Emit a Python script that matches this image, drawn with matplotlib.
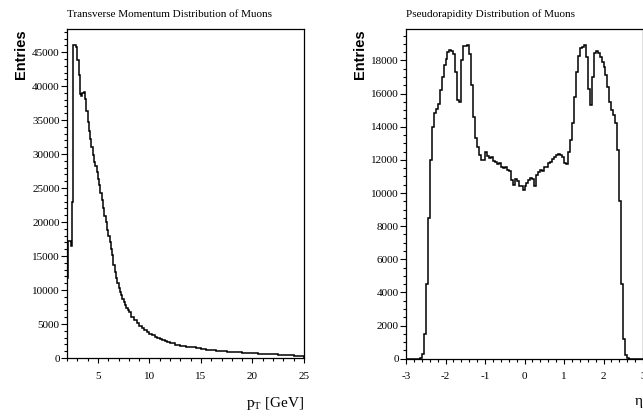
import numpy as np
import matplotlib.pyplot as plt
from matplotlib.ticker import MultipleLocator

plt.rcParams['font.family'] = ['Liberation Serif', 'DejaVu Serif']
plt.rcParams['mathtext.fontset'] = 'custom'
plt.rcParams['mathtext.rm'] = 'Liberation Serif'
plt.rcParams['axes.unicode_minus'] = False

# transverse momentum histogram (finer bins where the shape changes fast)
pt_edges = np.concatenate([np.arange(2.0, 8.0, 0.125),
                           np.arange(8.0, 12.0, 0.25),
                           np.arange(12.0, 25.01, 0.5)])
pt_counts = [
    11800, 17200, 17200, 16500, 22900, 46100, 46000, 45800,
    43900, 41600, 38800, 38500, 39000, 39100, 38100, 36300,
    34700, 33400, 32200, 31000, 29800, 28900, 28300, 27300,
    26400, 25400, 24300, 23200, 22000, 20900, 20000, 18900,
    17900, 17000, 16000, 15100, 13700, 12700, 11800, 11000,
    10300, 9700, 9200, 8700, 8200, 7800, 7400, 7100,
    # 0.25 wide
    6700, 6050, 5600, 5200, 4700, 4400, 4100, 3800,
    3550, 3350, 3100, 2950, 2800, 2650, 2500, 2380,
    # 0.5 wide
    2150, 1980, 1800, 1680, 1560, 1430, 1330, 1250, 1150, 1060,
    1000, 950, 880, 830, 790, 740, 700, 660, 610, 570,
    530, 490, 430, 390, 340, 300,
]

# pseudorapidity histogram, 120 bins from -3 to 3
eta_edges = np.linspace(-3, 3, 121)
eta_counts = [0] * 7 + [
    50, 300, 1500, 4500, 8500, 12000, 14000, 14800, 15100, 15400,
    16200, 17000, 17700, 18100, 18500, 18650, 18600, 18400, 17300, 15600,
    15500, 18000, 18850, 18900, 18950, 18400, 16500, 14600, 13300, 12800,
    12300, 12000, 12000, 12450, 12250, 12100, 12150, 11950, 11850, 11750,
    11800, 11600, 11500, 11600, 11400, 11300, 10800, 10500, 10850, 10700,
    10450, 10400, 10200, 10400, 10600, 10800, 10900, 10850, 10400, 11100,
    11250, 11400, 11350, 11600, 11550, 11800, 11900, 12050, 12200, 12300,
    12350, 12300, 12150, 11800, 11750, 12500, 13200, 14200, 15800, 17300,
    18300, 18750, 18800, 18950, 18200, 16300, 15300, 17000, 18450, 18600,
    18450, 18200, 17900, 17600, 17100, 16400, 15500, 15000, 14700, 14200,
    12600, 9500, 4500, 1200, 200, 30,
] + [0] * 7

W, H = 643, 417
fig = plt.figure(figsize=(W / 100, H / 100), dpi=100)
ax1 = fig.add_axes([67 / W, 59 / H, 237 / W, 329 / H])
ax2 = fig.add_axes([406 / W, 58.3 / H, 237 / W, 329.7 / H])


def style(ax, title):
    for s in ax.spines.values():
        s.set_linewidth(0.9)
    ax.tick_params(which='both', direction='out', top=False, right=False,
                   labelsize=8, width=0.8)
    ax.tick_params(axis='y', which='major', length=4.2, pad=1)
    ax.tick_params(axis='y', which='minor', length=2.2)
    ax.tick_params(axis='x', which='major', length=3.8, pad=6)
    ax.tick_params(axis='x', which='minor', length=2.0)
    ax.set_title(title, loc='left', fontsize=8, pad=8.8)
    ax.set_ylabel('Entries', loc='top', fontsize=10.5, fontweight='bold',
                  family='Liberation Sans')
    ax.yaxis.set_label_coords(-46 / 237, 1.0)
    ax.yaxis.label.set_verticalalignment('center')


ax1.stairs(pt_counts, pt_edges, color='black', lw=1.1)
ax1.set_xlim(2, 25)
ax1.set_ylim(0, 48400)
ax1.xaxis.set_major_locator(MultipleLocator(5))
ax1.xaxis.set_minor_locator(MultipleLocator(1))
ax1.yaxis.set_major_locator(MultipleLocator(5000))
ax1.yaxis.set_minor_locator(MultipleLocator(1000))
style(ax1, 'Transverse Momentum Distribution of Muons')
ax1.text(1.0, -0.148, r'p$_{\mathrm{T}}$ [GeV]', transform=ax1.transAxes,
         ha='right', va='baseline', fontsize=11)

ax2.stairs(eta_counts, eta_edges, color='black', lw=1.1)
ax2.set_xlim(-3, 3)
ax2.set_ylim(0, 19900)
ax2.xaxis.set_major_locator(MultipleLocator(1))
ax2.xaxis.set_minor_locator(MultipleLocator(0.2))
ax2.yaxis.set_major_locator(MultipleLocator(2000))
ax2.yaxis.set_minor_locator(MultipleLocator(500))
style(ax2, 'Pseudorapidity Distribution of Muons')
ax2.text(1.0, -0.14, 'η', transform=ax2.transAxes,
         ha='right', va='baseline', fontsize=11)

fig.savefig('out.png', dpi=100)
